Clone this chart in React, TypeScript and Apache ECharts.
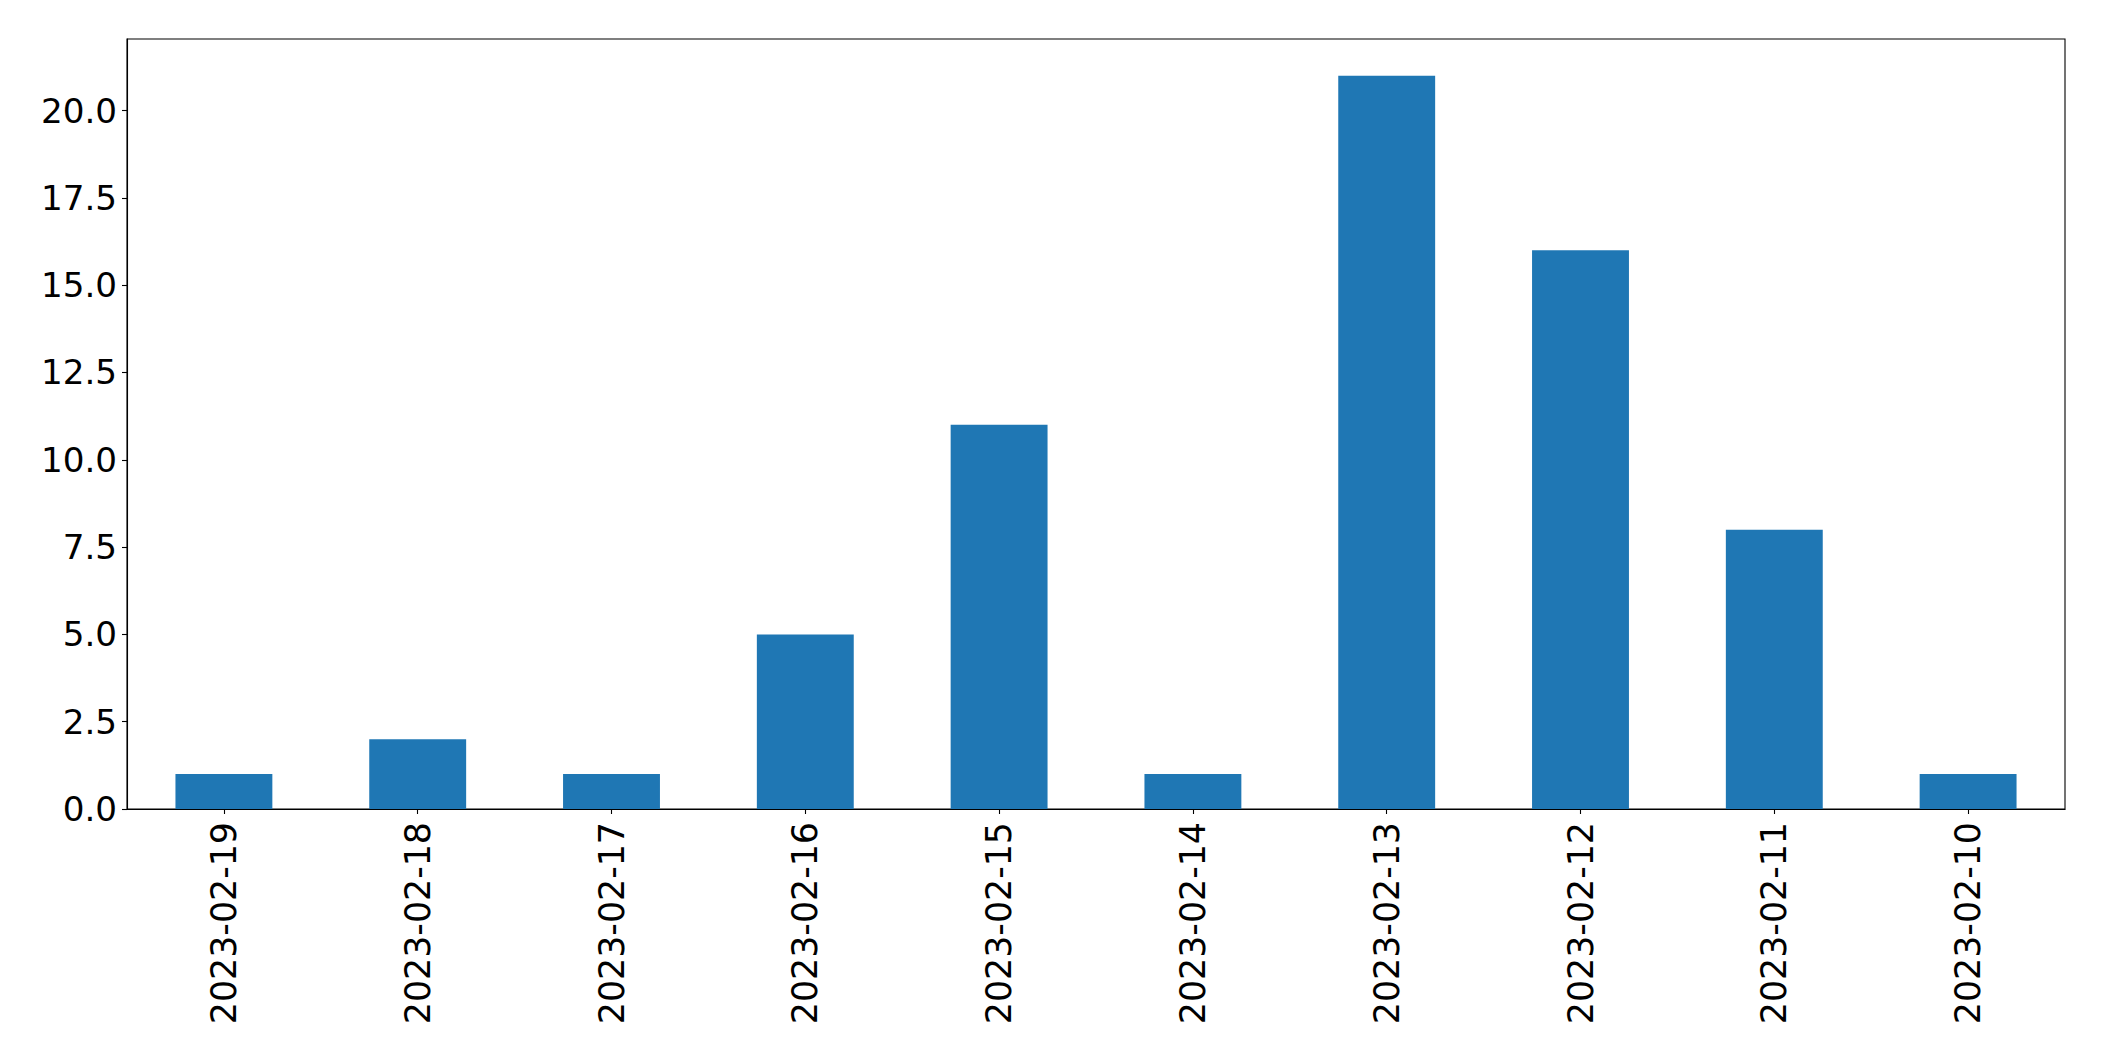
import React, { useEffect, useRef } from "react";
import * as echarts from "echarts";

const categories = [
  "2023-02-19",
  "2023-02-18",
  "2023-02-17",
  "2023-02-16",
  "2023-02-15",
  "2023-02-14",
  "2023-02-13",
  "2023-02-12",
  "2023-02-11",
  "2023-02-10",
];
const counts = [1, 2, 1, 5, 11, 1, 21, 16, 8, 1];
const yMin = 0;
const yMax = 22.05;
const yInterval = 2.5;

export default function App() {
  const ref = useRef<HTMLDivElement>(null);
  useEffect(() => {
    if (!ref.current) return;
    const chart = echarts.init(ref.current, null, { renderer: "svg" });
    const font = "DejaVu Sans";
    chart.setOption({
      animation: false,
      backgroundColor: "#ffffff",
      grid: {
        left: 127,
        top: 39,
        width: 1938,
        height: 770,
        show: true,
        borderColor: "#000000",
        borderWidth: 1.1,
        backgroundColor: "transparent",
      },
      xAxis: {
        type: "category",
        data: categories,
        boundaryGap: true,
        axisLine: { show: true, lineStyle: { color: "#000000", width: 1.1 } },
        axisTick: { show: true, alignWithLabel: true, length: 5, lineStyle: { color: "#000000", width: 1.1 } },
        axisLabel: {
          rotate: 90,
          interval: 0,
          margin: 13,
          fontFamily: font,
          fontSize: 34.8,
          color: "#000000",
        },
        splitLine: { show: false },
      },
      yAxis: {
        type: "value",
        min: yMin,
        max: yMax,
        interval: yInterval,
        axisLine: { show: true, lineStyle: { color: "#000000", width: 1.1 } },
        axisTick: { show: true, length: 5, lineStyle: { color: "#000000", width: 1.1 } },
        axisLabel: {
          margin: 10,
          fontFamily: font,
          fontSize: 34.2,
          color: "#000000",
          showMaxLabel: false,
          formatter: (v: number) => v.toFixed(1),
        },
        splitLine: { show: false },
      },
      series: [
        {
          type: "bar",
          data: counts,
          barWidth: "50%",
          itemStyle: { color: "#1f77b4" },
        },
      ],
    });
    return () => chart.dispose();
  }, []);
  return (
    <div
      ref={ref}
      style={{ position: "absolute", left: 0, top: 0, width: 2104, height: 1061 }}
    />
  );
}
